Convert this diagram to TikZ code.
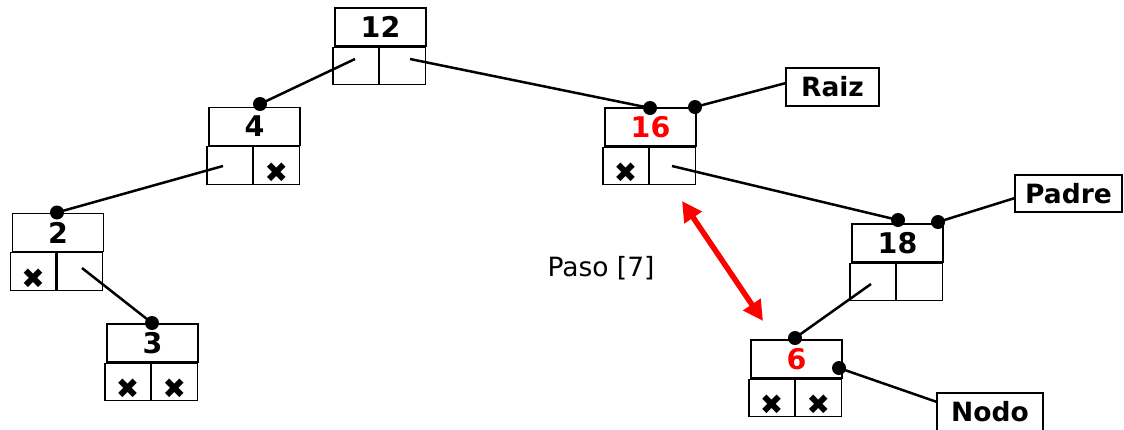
\documentclass[tikz,border=0pt]{standalone}
\usepackage{fontspec}
\setmainfont{DejaVu Sans}
\usetikzlibrary{arrows.meta,calc}
\newcommand\tnode[4]{%
  \node[keybox,text=#4] (#1) at (#2) {#3};
  \node[ptrbox,anchor=north east] (#1l) at ($(#1.south)+(-1.5,0)$) {};
  \node[ptrbox,anchor=north west] (#1r) at (#1l.north east) {};
}
\begin{document}
\begin{tikzpicture}[x=1pt,y=-1pt,
  keybox/.style={draw=black,line width=1.2pt,minimum width=91pt,minimum height=38pt,inner sep=0pt,font=\fontsize{28.5}{28.5}\selectfont\bfseries},
  ptrbox/.style={draw=black,line width=1.2pt,minimum width=45.5pt,minimum height=37.5pt,inner sep=0pt},
  lbl/.style={draw=black,line width=1.2pt,minimum height=38pt,inner sep=0pt,font=\fontsize{26.5}{26.5}\selectfont\bfseries},
  conn/.style={line width=2.5pt,black},
  dotc/.style={circle,fill=black,inner sep=0pt,minimum size=14pt},
  nil/.style={inner sep=0pt,font=\fontsize{28}{28}\selectfont},
  stepar/.style={red,line width=5.5pt,{Triangle[length=20pt,width=20pt]}-{Triangle[length=20pt,width=20pt]}},
]
\useasboundingbox (0,0) rectangle (1124,429);
% pointer start points and label ends
\coordinate (c12l) at (355,59);
\coordinate (c12r) at (410,59);
\coordinate (c4l) at (223,166);
\coordinate (c2r) at (82,268);
\coordinate (c16r) at (672,166);
\coordinate (c18l) at (871,284);
\coordinate (eraiz) at (786,83);
\coordinate (epadre) at (1015,198);
\coordinate (enodo) at (937,402);
\coordinate (a1) at (682,201);
\coordinate (a2) at (763,321);
% tree nodes
\tnode{n12}{380.5,27}{12}{black}
\tnode{n4}{254.5,126.5}{4}{black}
\tnode{n2}{58,232.5}{2}{black}
\tnode{n3}{152.5,343}{3}{black}
\tnode{n16}{650.5,127}{16}{red}
\tnode{n18}{897.5,243}{18}{black}
\tnode{n6}{796.5,359}{6}{red}
% null markers
\node[nil] (x4r) at ($(n4r.center)+(0,7)$) {✖};
\node[nil] (x2l) at ($(n2l.center)+(0,7)$) {✖};
\node[nil] (x3l) at ($(n3l.center)+(0,7)$) {✖};
\node[nil] (x3r) at ($(n3r.center)+(0,7)$) {✖};
\node[nil] (x16l) at ($(n16l.center)+(0,7)$) {✖};
\node[nil] (x6l) at ($(n6l.center)+(0,7)$) {✖};
\node[nil] (x6r) at ($(n6r.center)+(0,7)$) {✖};
% labels
\node[lbl,minimum width=93pt] (raiz) at (832.5,87) {Raiz};
\node[lbl,minimum width=107pt,minimum height=37pt] (padre) at (1068.5,193.5) {Padre};
\node[lbl,minimum width=106pt] (nodo) at (990,412) {Nodo};
\node[font=\fontsize{26.5}{26.5}\selectfont,inner sep=0pt] (paso) at (601,268) {Paso [7]};
% dot positions
\coordinate (p4) at (260,104);
\coordinate (p2) at (57,212.5);
\coordinate (p3) at (152,323);
\coordinate (p16) at (650,108);
\coordinate (p16r) at (695,107);
\coordinate (p18) at (898,220);
\coordinate (p18r) at (938,222);
\coordinate (p6) at (795,338);
\coordinate (p6r) at (839,368);
% connectors
\draw[conn] (c12l) -- (p4);
\draw[conn] (c12r) -- (p16);
\draw[conn] (c4l) -- (p2);
\draw[conn] (c2r) -- (p3);
\draw[conn] (c16r) -- (p18);
\draw[conn] (c18l) -- (p6);
\draw[conn] (p16r) -- (eraiz);
\draw[conn] (p18r) -- (epadre);
\draw[conn] (p6r) -- (enodo);
% dots
\node[dotc] (d4) at (p4) {};
\node[dotc] (d2) at (p2) {};
\node[dotc] (d3) at (p3) {};
\node[dotc] (d16) at (p16) {};
\node[dotc] (d16r) at (p16r) {};
\node[dotc] (d18) at (p18) {};
\node[dotc] (d18r) at (p18r) {};
\node[dotc] (d6) at (p6) {};
\node[dotc] (d6r) at (p6r) {};
\draw[stepar] (a1) -- (a2);
\end{tikzpicture}
\end{document}
